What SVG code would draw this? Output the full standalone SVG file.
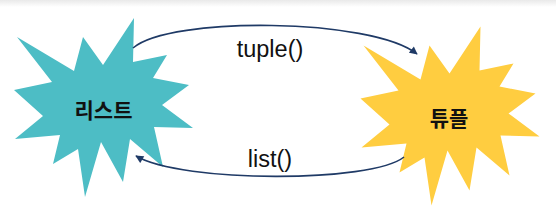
<svg xmlns="http://www.w3.org/2000/svg" width="556" height="218" viewBox="0 0 556 218">
  <defs>
    <linearGradient id="topShade" x1="0" y1="0" x2="0" y2="1">
      <stop offset="0" stop-color="#e9e9e9"/>
      <stop offset="1" stop-color="#ffffff"/>
    </linearGradient>
    <polygon id="star" points="134,18 133,62 167,55 153,78 189,85 162,105 193,128 154,127 163,167 130,139 123,182 101,142 85,197 78,149 53,164 60,135 15,139 43,116 14,90 52,82 17,37 74,71 83,37 103,65"/>
    <marker id="arrow" viewBox="0 0 10 10" refX="9" refY="5" markerWidth="9" markerHeight="8" markerUnits="userSpaceOnUse" orient="auto">
      <path d="M0,0 L10,5 L0,10 Z" fill="#1f3a66"/>
    </marker>
  </defs>
  <style>
    .conn { fill: none; stroke: #1f3a66; stroke-width: 1.6; marker-end: url(#arrow); }
    .node-label { font-family: "Noto Sans CJK KR", "Noto Sans", sans-serif; font-weight: bold; font-size: 21px; fill: #111111; text-anchor: middle; }
    .edge-label { font-family: "Liberation Sans", Arial, sans-serif; font-size: 23.5px; fill: #111111; text-anchor: middle; }
  </style>
  <rect x="0" y="0" width="556" height="218" fill="#ffffff"/>
  <rect x="0" y="0" width="556" height="7" fill="url(#topShade)"/>

  <g id="node-list">
    <use href="#star" fill="#4dbdc5"/>
    <text class="node-label" x="103.5" y="117.5">리스트</text>
  </g>

  <g id="node-tuple">
    <use href="#star" fill="#ffcd40" transform="translate(346.5,8.5)"/>
    <text class="node-label" x="449" y="125.5">튜플</text>
  </g>

  <g id="connectors">
    <path class="conn" d="M133,48 C170,16 372,18 417,54"/>
    <text class="edge-label" x="270" y="57">tuple()</text>
    <path class="conn" d="M404,157 C372,183 182,183 136,156"/>
    <text class="edge-label" x="270" y="167">list()</text>
  </g>
</svg>
